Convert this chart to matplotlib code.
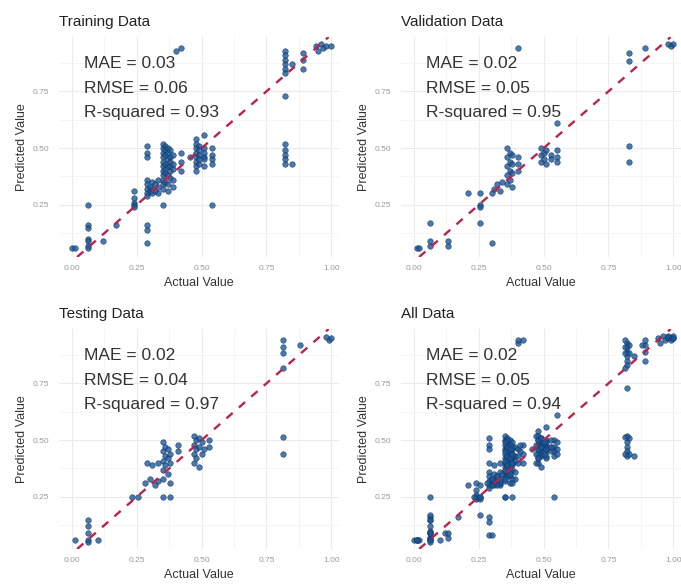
import numpy as np
import matplotlib
matplotlib.use("Agg")
import matplotlib.pyplot as plt
from matplotlib.ticker import MultipleLocator

plt.rcParams['font.family'] = ['Liberation Sans', 'DejaVu Sans']

# actual / predicted values, one list pair per split
train_actual = [0.00, 0.01,
                0.06, 0.06, 0.06, 0.06, 0.06, 0.06, 0.06,
                0.12, 0.17,
                0.24, 0.24, 0.24, 0.24, 0.24,
                0.29, 0.29, 0.29, 0.29, 0.29, 0.29, 0.29, 0.29, 0.29, 0.29, 0.29,
                0.30, 0.30, 0.31, 0.31, 0.31, 0.32, 0.32, 0.33, 0.33, 0.33,
                0.35, 0.35, 0.35, 0.35, 0.35, 0.35, 0.35, 0.35, 0.35, 0.35, 0.35, 0.35,
                0.36, 0.36, 0.36, 0.36, 0.36, 0.36, 0.36,
                0.37, 0.37, 0.37, 0.37, 0.37, 0.37, 0.37,
                0.38, 0.38, 0.38, 0.38, 0.38, 0.38,
                0.39, 0.39, 0.39, 0.39, 0.39,
                0.40, 0.42,
                0.42, 0.42, 0.42,
                0.455,
                0.48, 0.48, 0.48, 0.48, 0.48, 0.48, 0.48, 0.48,
                0.49, 0.49, 0.49, 0.49, 0.49,
                0.51, 0.51, 0.51, 0.51, 0.51, 0.51,
                0.54, 0.54, 0.54, 0.54, 0.54,
                0.82, 0.82, 0.82, 0.82, 0.82, 0.82, 0.82, 0.82, 0.82, 0.82, 0.82, 0.82,
                0.85, 0.85,
                0.89, 0.89, 0.89,
                0.94, 0.95, 0.96, 0.97, 0.98, 1.00]
train_pred = [0.06, 0.06,
              0.25, 0.16, 0.15, 0.10, 0.09, 0.07, 0.06,
              0.09, 0.16,
              0.31, 0.28, 0.26, 0.25, 0.24,
              0.51, 0.48, 0.46, 0.36, 0.34, 0.32, 0.30, 0.29, 0.16, 0.14, 0.08,
              0.33, 0.31, 0.35, 0.32, 0.30, 0.34, 0.31, 0.36, 0.33, 0.30,
              0.52, 0.50, 0.48, 0.46, 0.44, 0.42, 0.40, 0.38, 0.36, 0.34, 0.32, 0.25,
              0.51, 0.49, 0.47, 0.43, 0.41, 0.39, 0.35,
              0.50, 0.48, 0.45, 0.42, 0.38, 0.34, 0.31,
              0.49, 0.46, 0.44, 0.42, 0.40, 0.37,
              0.47, 0.43, 0.41, 0.36, 0.33,
              0.93, 0.94,
              0.48, 0.44, 0.40,
              0.46,
              0.54, 0.52, 0.50, 0.48, 0.46, 0.44, 0.42, 0.40,
              0.51, 0.49, 0.47, 0.45, 0.43,
              0.56, 0.50, 0.48, 0.46, 0.45, 0.42,
              0.50, 0.47, 0.45, 0.43, 0.25,
              0.93, 0.91, 0.89, 0.87, 0.85, 0.83, 0.73, 0.52, 0.49, 0.47, 0.45, 0.43,
              0.43, 0.87,
              0.92, 0.89, 0.85,
              0.95, 0.93, 0.96, 0.94, 0.95, 0.95]

val_actual = [0.01, 0.02, 0.06, 0.06, 0.06, 0.13, 0.13, 0.21,
              0.255, 0.255, 0.255, 0.255, 0.30, 0.30, 0.31, 0.32, 0.33, 0.34,
              0.36, 0.36, 0.36, 0.36, 0.36, 0.37, 0.37, 0.37, 0.37,
              0.38, 0.38, 0.38, 0.38,
              0.40, 0.40, 0.40, 0.40,
              0.49, 0.49, 0.49, 0.50, 0.50, 0.51, 0.51, 0.53, 0.53,
              0.55, 0.55, 0.55, 0.55,
              0.83, 0.83, 0.83, 0.83, 0.89, 0.98, 0.99, 1.00]
val_pred = [0.06, 0.06, 0.07, 0.09, 0.17, 0.07, 0.09, 0.30,
            0.30, 0.25, 0.24, 0.17, 0.08, 0.30, 0.32, 0.34, 0.31, 0.35,
            0.50, 0.46, 0.42, 0.38, 0.34, 0.48, 0.44, 0.40, 0.36,
            0.47, 0.43, 0.39, 0.33,
            0.94, 0.46, 0.43, 0.40,
            0.50, 0.47, 0.44, 0.48, 0.45, 0.49, 0.43, 0.47, 0.45,
            0.61, 0.49, 0.46, 0.44,
            0.92, 0.885, 0.51, 0.44, 0.94, 0.96, 0.95, 0.96]

test_actual = [0.01, 0.06, 0.06, 0.06, 0.06, 0.06, 0.10,
               0.23, 0.255, 0.28, 0.29, 0.30, 0.31, 0.32, 0.33, 0.33,
               0.35, 0.35, 0.35, 0.35, 0.35, 0.35, 0.36, 0.36, 0.36,
               0.37, 0.37, 0.37, 0.38, 0.38, 0.38, 0.38,
               0.41, 0.41,
               0.47, 0.47, 0.47, 0.47, 0.48, 0.48, 0.48, 0.49, 0.49, 0.49,
               0.50, 0.50, 0.51, 0.53, 0.53,
               0.815, 0.815, 0.815, 0.815, 0.815, 0.815, 0.88, 0.98, 0.99, 1.00]
test_pred = [0.06, 0.15, 0.12, 0.09, 0.06, 0.05, 0.06,
             0.25, 0.25, 0.31, 0.40, 0.33, 0.39, 0.30, 0.40, 0.32,
             0.49, 0.45, 0.41, 0.37, 0.33, 0.25, 0.47, 0.43, 0.39,
             0.46, 0.42, 0.35, 0.44, 0.40, 0.31, 0.25,
             0.48, 0.45,
             0.52, 0.48, 0.44, 0.40, 0.50, 0.46, 0.42, 0.51, 0.47, 0.38,
             0.49, 0.44, 0.46, 0.50, 0.47,
             0.94, 0.91, 0.885, 0.82, 0.515, 0.44, 0.92, 0.955, 0.94, 0.95]

panel_titles = ["Training Data", "Validation Data", "Testing Data", "All Data"]
mae_values = ["0.03", "0.02", "0.02", "0.02"]
rmse_values = ["0.06", "0.05", "0.04", "0.05"]
r2_values = ["0.93", "0.95", "0.97", "0.94"]

W, H = 681, 585
fig = plt.figure(figsize=(W / 100, H / 100), dpi=100)
fig.patch.set_facecolor('white')

# pixel boxes (left, right, top, bottom) for each panel
boxes = [(59, 339, 37, 257),
         (401, 681, 37, 257),
         (59, 339, 329, 549),
         (401, 681, 329, 549)]

splits = [(train_actual, train_pred),
          (val_actual, val_pred),
          (test_actual, test_pred),
          (train_actual + val_actual + test_actual,
           train_pred + val_pred + test_pred)]

for k in range(4):
    l, r, t, b = boxes[k]
    ax = fig.add_axes([l / W, 1 - b / H, (r - l) / W, (b - t) / H])
    x = np.array(splits[k][0])
    y = np.array(splits[k][1])

    ax.scatter(x, y, s=16, color='#1d5796', edgecolors='#0b2f5e',
               linewidths=0.4, alpha=0.8, zorder=3)
    ax.axline((0, 0), slope=1, color='#b8234f', lw=1.7,
              linestyle=(0, (3.5, 3.5)), zorder=4)

    ax.set_xlim(-0.05, 1.03)
    ax.set_ylim(0.02, 0.99)
    ax.xaxis.set_major_locator(MultipleLocator(0.25))
    ax.yaxis.set_major_locator(MultipleLocator(0.25))
    ax.xaxis.set_minor_locator(MultipleLocator(0.125))
    ax.yaxis.set_minor_locator(MultipleLocator(0.125))
    ax.xaxis.set_major_formatter(lambda v, p: "%.2f" % v)
    ax.yaxis.set_major_formatter(lambda v, p: "%.2f" % v)
    ax.grid(which='major', color='#ebebeb', lw=0.8)
    ax.grid(which='minor', color='#f4f4f4', lw=0.6)
    ax.set_axisbelow(True)
    for s in ax.spines.values():
        s.set_visible(False)
    ax.tick_params(which='both', length=0, labelsize=6, labelcolor='#9a9a9a')
    ax.tick_params(axis='x', pad=6)
    ax.tick_params(axis='y', pad=7)

    ax.set_xlabel("Actual Value", fontsize=9, color='#333333', labelpad=3)
    ax.set_ylabel("Predicted Value", fontsize=9, color='#333333', labelpad=3)
    ax.set_title(panel_titles[k], loc='left', fontsize=11, color='#222222',
                 pad=8)

    ax.text(0.045, 0.875, "MAE = " + mae_values[k], fontsize=12.5,
            color='#333333', va='center', ha='left')
    ax.text(0.045, 0.765, "RMSE = " + rmse_values[k], fontsize=12.5,
            color='#333333', va='center', ha='left')
    ax.text(0.045, 0.655, "R-squared = " + r2_values[k], fontsize=12.5,
            color='#333333', va='center', ha='left')

plt.savefig("out.png", dpi=100)
